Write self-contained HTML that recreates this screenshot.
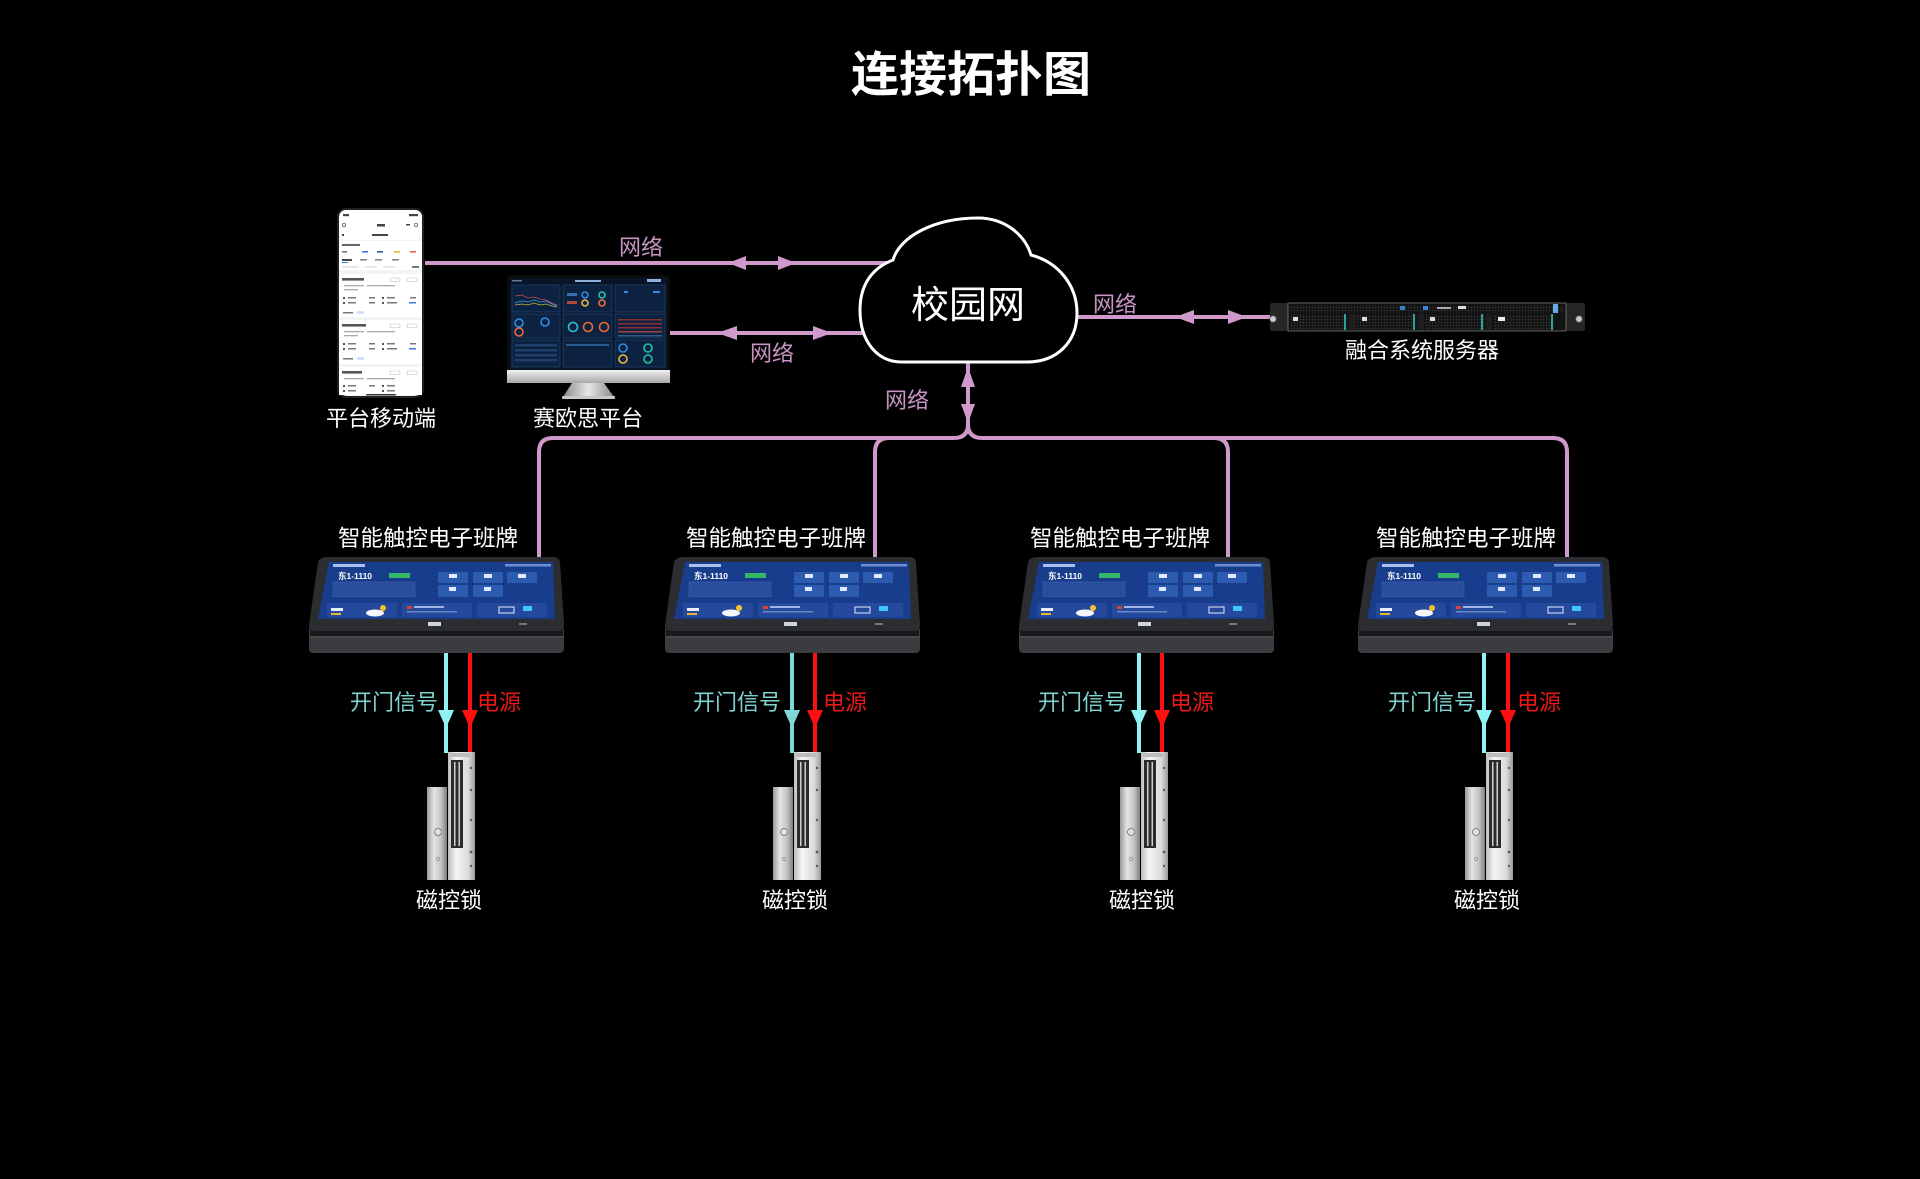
<!DOCTYPE html>
<html>
<head>
<meta charset="utf-8">
<style>
html,body{margin:0;padding:0;background:#000;}
svg{display:block;}
.t{font-family:"Liberation Sans","Noto Sans CJK SC",sans-serif;}
</style>
</head>
<body>
<svg width="1920" height="1179" viewBox="0 0 1920 1179" xmlns="http://www.w3.org/2000/svg">
<defs>
  <linearGradient id="chin" x1="0" y1="0" x2="0" y2="1">
    <stop offset="0" stop-color="#f0f0f0"/><stop offset="1" stop-color="#a8a8a8"/>
  </linearGradient>
  <linearGradient id="stand" x1="0" y1="0" x2="1" y2="0">
    <stop offset="0" stop-color="#8a8a8a"/><stop offset="0.5" stop-color="#e6e6e6"/><stop offset="1" stop-color="#8a8a8a"/>
  </linearGradient>
  <linearGradient id="bodyG" x1="0" y1="0" x2="1" y2="0">
    <stop offset="0" stop-color="#bdbdbd"/><stop offset="0.3" stop-color="#f5f5f5"/><stop offset="0.75" stop-color="#dadada"/><stop offset="1" stop-color="#9a9a9a"/>
  </linearGradient>
  <linearGradient id="plateG" x1="0" y1="0" x2="1" y2="0">
    <stop offset="0" stop-color="#9a9a9a"/><stop offset="0.35" stop-color="#e4e4e4"/><stop offset="0.7" stop-color="#c4c4c4"/><stop offset="1" stop-color="#7e7e7e"/>
  </linearGradient>
  <pattern id="mesh" width="3" height="3" patternUnits="userSpaceOnUse">
    <rect width="3" height="3" fill="#141414"/><circle cx="1.5" cy="1.5" r="0.7" fill="#3c3c3c"/>
  </pattern>

  <g id="panel">
    <rect x="0" y="626" width="255" height="27" rx="4" fill="#3a3c40"/>
    <rect x="1" y="629" width="253" height="8" fill="#18191b"/>
    <rect x="1" y="636" width="253" height="1.5" fill="#4a4c50"/>
    <path d="M19,557 L244,557 Q250,557 251,562 L255,624 Q255,631 249,631 L6,631 Q0,631 0,625 L9,562 Q11,557 19,557Z" fill="#2b2d31"/>
    <path d="M20,562 L244,562 L246,619 L9,619 Z" fill="#183d8c"/>
    <rect x="24" y="564" width="32" height="3" fill="#a9c0ee"/>
    <rect x="196" y="564" width="46" height="2.5" fill="#6e8fd0"/>
    <rect x="80" y="573" width="21" height="5" fill="#35b865"/>
    <rect x="24" y="582" width="82" height="6.5" fill="#2a4d9b" stroke="#3d63b2" stroke-width="0.6"/>
    <rect x="24" y="590" width="82" height="6.5" fill="#2a4d9b" stroke="#3d63b2" stroke-width="0.6"/>
    <rect x="129" y="572" width="30" height="11" rx="1" fill="#2d5bb0"/>
    <rect x="164" y="572" width="30" height="11" rx="1" fill="#2d5bb0"/>
    <rect x="198" y="572" width="30" height="11" rx="1" fill="#2d5bb0"/>
    <rect x="129" y="585" width="30" height="12" rx="1" fill="#2d5bb0"/>
    <rect x="164" y="585" width="30" height="12" rx="1" fill="#2d5bb0"/>
    <rect x="140" y="574" width="8" height="4" fill="#dfe8ff"/>
    <rect x="175" y="574" width="8" height="4" fill="#dfe8ff"/>
    <rect x="209" y="574" width="8" height="4" fill="#dfe8ff"/>
    <rect x="140" y="587" width="7" height="4" fill="#dfe8ff"/>
    <rect x="175" y="587" width="7" height="4" fill="#dfe8ff"/>
    <rect x="18" y="603" width="70" height="14" rx="1" fill="#25499c"/>
    <rect x="93" y="603" width="70" height="14" rx="1" fill="#25499c"/>
    <rect x="168" y="603" width="70" height="14" rx="1" fill="#25499c"/>
    <rect x="22" y="608" width="12" height="3" fill="#e8eeff"/>
    <rect x="22" y="613" width="10" height="2" fill="#e8b730"/>
    <ellipse cx="66" cy="613" rx="9" ry="3.5" fill="#f4f6fb"/>
    <circle cx="74" cy="608" r="3" fill="#f1c232"/>
    <rect x="98" y="606" width="5" height="3" fill="#d8403a"/>
    <rect x="105" y="606" width="30" height="2" fill="#9fb4e0"/>
    <rect x="98" y="611" width="50" height="1.5" fill="#6d88c6"/>
    <rect x="190" y="607" width="15" height="6" fill="none" stroke="#e6ecff" stroke-width="1"/>
    <rect x="214" y="606" width="9" height="5" fill="#3fc6ff"/>
    <rect x="119" y="622" width="13" height="4" fill="#cfd3da"/>
    <rect x="210" y="623" width="8" height="2" fill="#777"/>
  </g>

  <g id="lock">
    <rect x="-19" y="787" width="20" height="93" fill="url(#plateG)"/>
    <circle cx="-8" cy="832" r="3.5" fill="#d8e0e8" stroke="#6b6b6b" stroke-width="0.8"/>
    <circle cx="-8" cy="859" r="1.6" fill="none" stroke="#8c8c8c" stroke-width="0.7"/>
    <rect x="2" y="752" width="27" height="128" fill="url(#bodyG)"/>
    <rect x="5" y="760" width="12" height="88" fill="#2b2b2b"/>
    <rect x="8" y="762" width="1.5" height="84" fill="#cfcfcf"/>
    <rect x="12.5" y="762" width="1.5" height="84" fill="#cfcfcf"/>
    <rect x="4" y="753" width="20" height="4" fill="#bcbcbc"/>
    <circle cx="25" cy="768" r="1.2" fill="#5a5a5a"/>
    <circle cx="25" cy="790" r="1.2" fill="#5a5a5a"/>
    <circle cx="25" cy="820" r="1.2" fill="#5a5a5a"/>
    <circle cx="25" cy="852" r="1.4" fill="#5a5a5a"/>
    <circle cx="25" cy="866" r="1.2" fill="#5a5a5a"/>
  </g>
</defs>

<!-- Title -->
<text class="t" x="971" y="91" font-size="48" font-weight="700" fill="#ffffff" text-anchor="middle">连接拓扑图</text>

<!-- Network connectors -->
<g stroke="#cf9acb" stroke-width="4" fill="none" stroke-linecap="butt">
  <path d="M425,263 H892"/>
  <path d="M670,333 H882"/>
  <path d="M1000,317 H1272"/>
  <path d="M968,340 V424 Q968,438 954,438 H553 Q539,438 539,452 V562"/>
  <path d="M968,424 Q968,438 982,438 H1553 Q1567,438 1567,452 V562"/>
  <path d="M954,438 H889 Q875,438 875,452 V562"/>
  <path d="M982,438 H1214 Q1228,438 1228,452 V562"/>
</g>
<g fill="#cf9acb">
  <polygon points="728,263 746,256 746,270"/>
  <polygon points="796,263 778,256 778,270"/>
  <polygon points="717,333 737,326 737,340"/>
  <polygon points="832,333 813,326 813,340"/>
  <polygon points="1175,317 1194,310 1194,324"/>
  <polygon points="1247,317 1228,310 1228,324"/>
  <polygon points="968,367 961,387 975,387"/>
  <polygon points="968,423 961,404 975,404"/>
</g>

<!-- Cloud -->
<path d="M902,362 C876,362 860,340 860,310 C860,285 872,268 893,260 C900,236 935,218 978,218 C1005,218 1025,235 1031,255 C1058,262 1077,285 1077,313 C1077,342 1057,362 1027,362 Z" fill="#000" stroke="#ffffff" stroke-width="3"/>
<text class="t" x="968" y="318" font-size="38" fill="#ffffff" text-anchor="middle">校园网</text>

<!-- network labels -->
<g class="t" font-size="22" fill="#c794c3" text-anchor="middle">
  <text x="641" y="255">网络</text>
  <text x="772" y="361">网络</text>
  <text x="1115" y="312">网络</text>
  <text x="907" y="408">网络</text>
</g>

<!-- Phone -->
<rect x="337" y="208" width="87" height="190" rx="9" fill="#202020"/>
<rect x="339" y="210" width="83" height="186" rx="7.5" fill="#f3f4f6"/>
<rect x="339" y="210" width="83" height="30" rx="7" fill="#ffffff"/>
<g fill="#444">
  <rect x="343" y="214" width="6" height="2.2"/>
  <rect x="409" y="214" width="9" height="2.2"/>
  <rect x="377" y="224" width="8" height="2.5"/>
  <circle cx="344" cy="225" r="1.6" fill="none" stroke="#555" stroke-width="0.7"/>
  <rect x="406" y="224" width="4" height="1.5"/>
  <circle cx="416" cy="225" r="1.6" fill="none" stroke="#555" stroke-width="0.7"/>
  <rect x="372" y="234" width="16" height="2"/>
  <rect x="342" y="234" width="2" height="2"/>
</g>
<rect x="339" y="241" width="83" height="29" fill="#ffffff"/>
<g>
  <rect x="342" y="244" width="18" height="2" fill="#666"/>
  <rect x="342" y="251" width="5" height="1.6" fill="#777"/>
  <rect x="362" y="251" width="6" height="1.6" fill="#3a78e0"/>
  <rect x="377" y="251" width="6" height="1.6" fill="#3b5a9a"/>
  <rect x="394" y="251" width="6" height="1.6" fill="#f0b429"/>
  <rect x="410" y="251" width="6" height="1.6" fill="#e8673a"/>
  <rect x="342" y="259" width="10" height="2" fill="#444"/>
  <rect x="342" y="262" width="6" height="1" fill="#3a78e0"/>
  <rect x="360" y="259" width="7" height="1.6" fill="#888"/>
  <rect x="375" y="259" width="7" height="1.6" fill="#888"/>
  <rect x="392" y="259" width="7" height="1.6" fill="#888"/>
  <rect x="342" y="266" width="17" height="2" rx="1" fill="#e4e7ee"/>
  <rect x="365" y="266" width="12" height="2" rx="1" fill="#e4e7ee"/>
  <rect x="383" y="266" width="12" height="2" rx="1" fill="#e4e7ee"/>
  <rect x="412" y="266" width="7" height="2" fill="#777"/>
</g>
<!-- cards -->
<rect x="339" y="274" width="83" height="43" fill="#ffffff"/>
<rect x="339" y="320" width="83" height="44" fill="#ffffff"/>
<rect x="339" y="367" width="83" height="28" fill="#ffffff"/>
<g fill="#555">
  <rect x="342" y="278" width="22" height="2.6"/>
  <rect x="390" y="278" width="10" height="3.5" rx="1" fill="none" stroke="#bbb" stroke-width="0.6"/>
  <rect x="407" y="278" width="10" height="3.5" rx="1" fill="none" stroke="#bbb" stroke-width="0.6"/>
  <rect x="344" y="285" width="20" height="1.3" fill="#aaa"/><rect x="367" y="285" width="28" height="1.3" fill="#aaa"/>
  <rect x="344" y="289" width="14" height="1.3" fill="#aaa"/>
  <rect x="343" y="297" width="2" height="2"/><rect x="348" y="297" width="8" height="1.5" fill="#777"/><rect x="369" y="297" width="6" height="1.5" fill="#777"/><rect x="382" y="297" width="2" height="2"/><rect x="387" y="297" width="8" height="1.5" fill="#777"/><rect x="410" y="297" width="6" height="1.5" fill="#777"/>
  <rect x="343" y="302" width="2" height="2"/><rect x="348" y="302" width="8" height="1.5" fill="#777"/><rect x="369" y="302" width="6" height="1.5" fill="#777"/><rect x="382" y="302" width="2" height="2"/><rect x="387" y="302" width="10" height="1.5" fill="#777"/><rect x="409" y="302" width="7" height="1.5" fill="#3a78e0"/>
  <rect x="343" y="312" width="10" height="1.5" fill="#777"/><rect x="357" y="311" width="7" height="3" rx="1.5" fill="#cfe0fb"/>

  <rect x="342" y="324" width="24" height="2.6"/>
  <rect x="390" y="324" width="10" height="3.5" rx="1" fill="none" stroke="#bbb" stroke-width="0.6"/>
  <rect x="407" y="324" width="10" height="3.5" rx="1" fill="none" stroke="#bbb" stroke-width="0.6"/>
  <rect x="344" y="331" width="20" height="1.3" fill="#aaa"/><rect x="367" y="331" width="28" height="1.3" fill="#aaa"/>
  <rect x="344" y="335" width="14" height="1.3" fill="#aaa"/>
  <rect x="343" y="343" width="2" height="2"/><rect x="348" y="343" width="8" height="1.5" fill="#777"/><rect x="369" y="343" width="6" height="1.5" fill="#777"/><rect x="382" y="343" width="2" height="2"/><rect x="387" y="343" width="8" height="1.5" fill="#777"/><rect x="410" y="343" width="6" height="1.5" fill="#777"/>
  <rect x="343" y="348" width="2" height="2"/><rect x="348" y="348" width="8" height="1.5" fill="#777"/><rect x="369" y="348" width="6" height="1.5" fill="#777"/><rect x="382" y="348" width="2" height="2"/><rect x="387" y="348" width="10" height="1.5" fill="#777"/><rect x="409" y="348" width="7" height="1.5" fill="#3a78e0"/>
  <rect x="343" y="358" width="10" height="1.5" fill="#777"/><rect x="357" y="357" width="7" height="3" rx="1.5" fill="#cfe0fb"/>

  <rect x="342" y="371" width="20" height="2.6"/>
  <rect x="390" y="371" width="10" height="3.5" rx="1" fill="none" stroke="#bbb" stroke-width="0.6"/>
  <rect x="407" y="371" width="10" height="3.5" rx="1" fill="none" stroke="#bbb" stroke-width="0.6"/>
  <rect x="344" y="378" width="20" height="1.3" fill="#aaa"/><rect x="367" y="378" width="28" height="1.3" fill="#aaa"/>
  <rect x="343" y="385" width="2" height="2"/><rect x="348" y="385" width="8" height="1.5" fill="#777"/><rect x="369" y="385" width="6" height="1.5" fill="#777"/><rect x="382" y="385" width="2" height="2"/><rect x="387" y="385" width="8" height="1.5" fill="#777"/>
  <rect x="343" y="390" width="2" height="2"/><rect x="348" y="390" width="8" height="1.5" fill="#777"/><rect x="382" y="390" width="2" height="2"/><rect x="387" y="390" width="8" height="1.5" fill="#777"/>
  <rect x="366" y="394" width="30" height="1.5" rx="0.75" fill="#333"/>
</g>
<text class="t" x="381" y="426" font-size="22" fill="#ffffff" text-anchor="middle">平台移动端</text>

<!-- Monitor -->
<rect x="507" y="275" width="163" height="98" rx="3" fill="#0b0b0d"/>
<rect x="510" y="278" width="157" height="92" fill="#0a1628"/>
<g fill="#0d2240" stroke="#1f4a7a" stroke-width="0.6">
  <rect x="512" y="285" width="48" height="27"/>
  <rect x="563" y="285" width="49" height="27"/>
  <rect x="615" y="285" width="50" height="27"/>
  <rect x="512" y="314" width="48" height="24"/>
  <rect x="563" y="314" width="49" height="24"/>
  <rect x="615" y="314" width="50" height="24"/>
  <rect x="512" y="340" width="48" height="27"/>
  <rect x="563" y="340" width="49" height="27"/>
  <rect x="615" y="340" width="50" height="27"/>
</g>
<rect x="575" y="280" width="26" height="2" fill="#8fb0d8"/>
<rect x="512" y="280" width="10" height="1.5" fill="#5a7aa0"/>
<rect x="647" y="279" width="14" height="3" fill="#8fb0d8"/>
<polyline points="515,296 522,295 528,298 534,297 540,299 546,300 552,303 557,305" fill="none" stroke="#c05050" stroke-width="0.8"/>
<polyline points="515,303 522,301 528,302 534,300 540,302 546,301 552,304 557,306" fill="none" stroke="#3aa0d8" stroke-width="0.8"/>
<polyline points="515,305 522,304 528,305 534,303 540,305 546,304 552,306 557,307" fill="none" stroke="#c8b040" stroke-width="0.8"/>
<g fill="none" stroke-width="1.6">
  <circle cx="519" cy="323" r="4" stroke="#2f8de4"/>
  <circle cx="545" cy="322" r="4" stroke="#2f8de4"/>
  <circle cx="519" cy="332" r="4" stroke="#ee6a3a"/>
  <circle cx="573" cy="327" r="4.5" stroke="#2ec2c8"/>
  <circle cx="588" cy="327" r="4.5" stroke="#ee6a3a"/>
  <circle cx="604" cy="327" r="4.5" stroke="#ee6a3a"/>
  <circle cx="585" cy="295" r="3" stroke="#2f8de4"/>
  <circle cx="602" cy="295" r="3" stroke="#27c2a0"/>
  <circle cx="585" cy="303" r="3" stroke="#e9b93a"/>
  <circle cx="602" cy="303" r="3" stroke="#ee6a3a"/>
  <circle cx="623" cy="348" r="4" stroke="#2f8de4"/>
  <circle cx="648" cy="348" r="4" stroke="#27c2a0"/>
  <circle cx="623" cy="359" r="4" stroke="#e9b93a"/>
  <circle cx="648" cy="359" r="4" stroke="#27c2a0"/>
</g>
<g fill="#3c6fb0">
  <rect x="567" y="293" width="10" height="3"/>
  <rect x="567" y="301" width="10" height="3" fill="#b04a3a"/>
  <rect x="653" y="291" width="7" height="2" fill="#3a8ae8"/>
  <rect x="624" y="291" width="4" height="2" fill="#3a8ae8"/>
</g>
<g fill="#8b3030">
  <rect x="618" y="319" width="44" height="1.5"/>
  <rect x="618" y="323" width="44" height="1.5"/>
  <rect x="618" y="327" width="44" height="1.5"/>
  <rect x="618" y="331" width="44" height="1.5" fill="#a04040"/>
  <rect x="618" y="335" width="44" height="1.5" fill="#2a5a90"/>
</g>
<g fill="#1d3f6a">
  <rect x="515" y="344" width="42" height="2.5"/>
  <rect x="515" y="349" width="42" height="2.5"/>
  <rect x="515" y="354" width="42" height="2.5"/>
  <rect x="515" y="359" width="42" height="2.5"/>
  <rect x="566" y="344" width="43" height="2" fill="#2a5a90"/>
</g>
<rect x="507" y="370" width="163" height="13" fill="url(#chin)"/>
<polygon points="572,383 604,383 614,397 563,397" fill="url(#stand)"/>
<rect x="562" y="396" width="53" height="3" rx="1" fill="#c8c8c8"/>
<text class="t" x="588" y="426" font-size="22" fill="#ffffff" text-anchor="middle">赛欧思平台</text>

<!-- Server -->
<rect x="1270" y="303" width="18" height="28" rx="2" fill="#262626"/>
<rect x="1566" y="303" width="19" height="28" rx="2" fill="#262626"/>
<circle cx="1273" cy="319" r="3.3" fill="#c9c9c9" stroke="#555" stroke-width="0.8"/>
<circle cx="1579" cy="319" r="3.3" fill="#c9c9c9" stroke="#555" stroke-width="0.8"/>
<rect x="1288" y="303" width="278" height="28" fill="#121212" stroke="#7a7a7a" stroke-width="0.8"/>
<rect x="1290" y="305" width="274" height="8" fill="url(#mesh)"/>
<rect x="1400" y="306" width="5" height="4" fill="#3a7fd0"/>
<rect x="1423" y="306" width="5" height="4" fill="#3a7fd0"/>
<rect x="1437" y="307" width="14" height="2" fill="#aaa"/>
<rect x="1458" y="306" width="8" height="3" fill="#ddd"/>
<rect x="1553" y="304" width="5" height="9" fill="#6aa8e8"/>
<g>
  <rect x="1290" y="314" width="58" height="16" fill="url(#mesh)"/>
  <rect x="1357" y="314" width="60" height="16" fill="url(#mesh)"/>
  <rect x="1425" y="314" width="60" height="16" fill="url(#mesh)"/>
  <rect x="1493" y="314" width="62" height="16" fill="url(#mesh)"/>
  <rect x="1349" y="314" width="7" height="16" fill="#1e1e1e"/>
  <rect x="1418" y="314" width="6" height="16" fill="#1e1e1e"/>
  <rect x="1486" y="314" width="6" height="16" fill="#1e1e1e"/>
  <rect x="1344" y="314" width="2" height="16" fill="#2aa39a"/>
  <rect x="1413" y="314" width="2" height="16" fill="#2aa39a"/>
  <rect x="1481" y="314" width="2" height="16" fill="#2aa39a"/>
  <rect x="1551" y="314" width="2" height="16" fill="#2aa39a"/>
  <rect x="1293" y="317" width="5" height="4" fill="#ddd"/>
  <rect x="1362" y="317" width="5" height="4" fill="#ddd"/>
  <rect x="1430" y="317" width="5" height="4" fill="#ddd"/>
  <rect x="1498" y="317" width="7" height="4" fill="#eee"/>
</g>
<text class="t" x="1422" y="358" font-size="22" fill="#ffffff" text-anchor="middle">融合系统服务器</text>

<!-- Signal / power lines -->
<g stroke-width="4">
  <line x1="446" y1="650" x2="446" y2="753" stroke="#8ff3f3"/>
  <line x1="470" y1="650" x2="470" y2="753" stroke="#ff1010"/>
  <line x1="792" y1="650" x2="792" y2="753" stroke="#7fd8d8"/>
  <line x1="815" y1="650" x2="815" y2="753" stroke="#ff1010"/>
  <line x1="1139" y1="650" x2="1139" y2="753" stroke="#8ff3f3"/>
  <line x1="1162" y1="650" x2="1162" y2="753" stroke="#ff1010"/>
  <line x1="1484" y1="650" x2="1484" y2="753" stroke="#8ff3f3"/>
  <line x1="1508" y1="650" x2="1508" y2="753" stroke="#ff1010"/>
</g>
<g>
  <polygon points="438,710 454,710 446,728" fill="#8ff3f3"/>
  <polygon points="462,710 478,710 470,728" fill="#ff1010"/>
  <polygon points="784,710 800,710 792,728" fill="#7fd8d8"/>
  <polygon points="807,710 823,710 815,728" fill="#ff1010"/>
  <polygon points="1131,710 1147,710 1139,728" fill="#8ff3f3"/>
  <polygon points="1154,710 1170,710 1162,728" fill="#ff1010"/>
  <polygon points="1476,710 1492,710 1484,728" fill="#8ff3f3"/>
  <polygon points="1500,710 1516,710 1508,728" fill="#ff1010"/>
</g>

<!-- Panels -->
<use href="#panel" x="309" y="0"/>
<use href="#panel" x="665" y="0"/>
<use href="#panel" x="1019" y="0"/>
<use href="#panel" x="1358" y="0"/>
<g class="t" font-size="8.5" font-weight="700" fill="#ffffff">
  <text x="338" y="579">东1-1110</text>
  <text x="694" y="579">东1-1110</text>
  <text x="1048" y="579">东1-1110</text>
  <text x="1387" y="579">东1-1110</text>
</g>

<!-- Panel labels -->
<g class="t" font-size="22.5" fill="#ffffff" text-anchor="middle">
  <text x="428" y="546">智能触控电子班牌</text>
  <text x="776" y="546">智能触控电子班牌</text>
  <text x="1120" y="546">智能触控电子班牌</text>
  <text x="1466" y="546">智能触控电子班牌</text>
</g>

<!-- Signal labels -->
<g class="t" font-size="22" fill="#7fd3d0" text-anchor="end">
  <text x="438" y="710">开门信号</text>
  <text x="781" y="710">开门信号</text>
  <text x="1126" y="710">开门信号</text>
  <text x="1476" y="710">开门信号</text>
</g>
<g class="t" font-size="22" fill="#e81818" text-anchor="start">
  <text x="477" y="710">电源</text>
  <text x="823" y="710">电源</text>
  <text x="1170" y="710">电源</text>
  <text x="1517" y="710">电源</text>
</g>

<!-- Locks -->
<use href="#lock" x="446" y="0"/>
<use href="#lock" x="792" y="0"/>
<use href="#lock" x="1139" y="0"/>
<use href="#lock" x="1484" y="0"/>
<g class="t" font-size="22" fill="#ffffff" text-anchor="middle">
  <text x="449" y="908">磁控锁</text>
  <text x="795" y="908">磁控锁</text>
  <text x="1142" y="908">磁控锁</text>
  <text x="1487" y="908">磁控锁</text>
</g>
</svg>
</body>
</html>
